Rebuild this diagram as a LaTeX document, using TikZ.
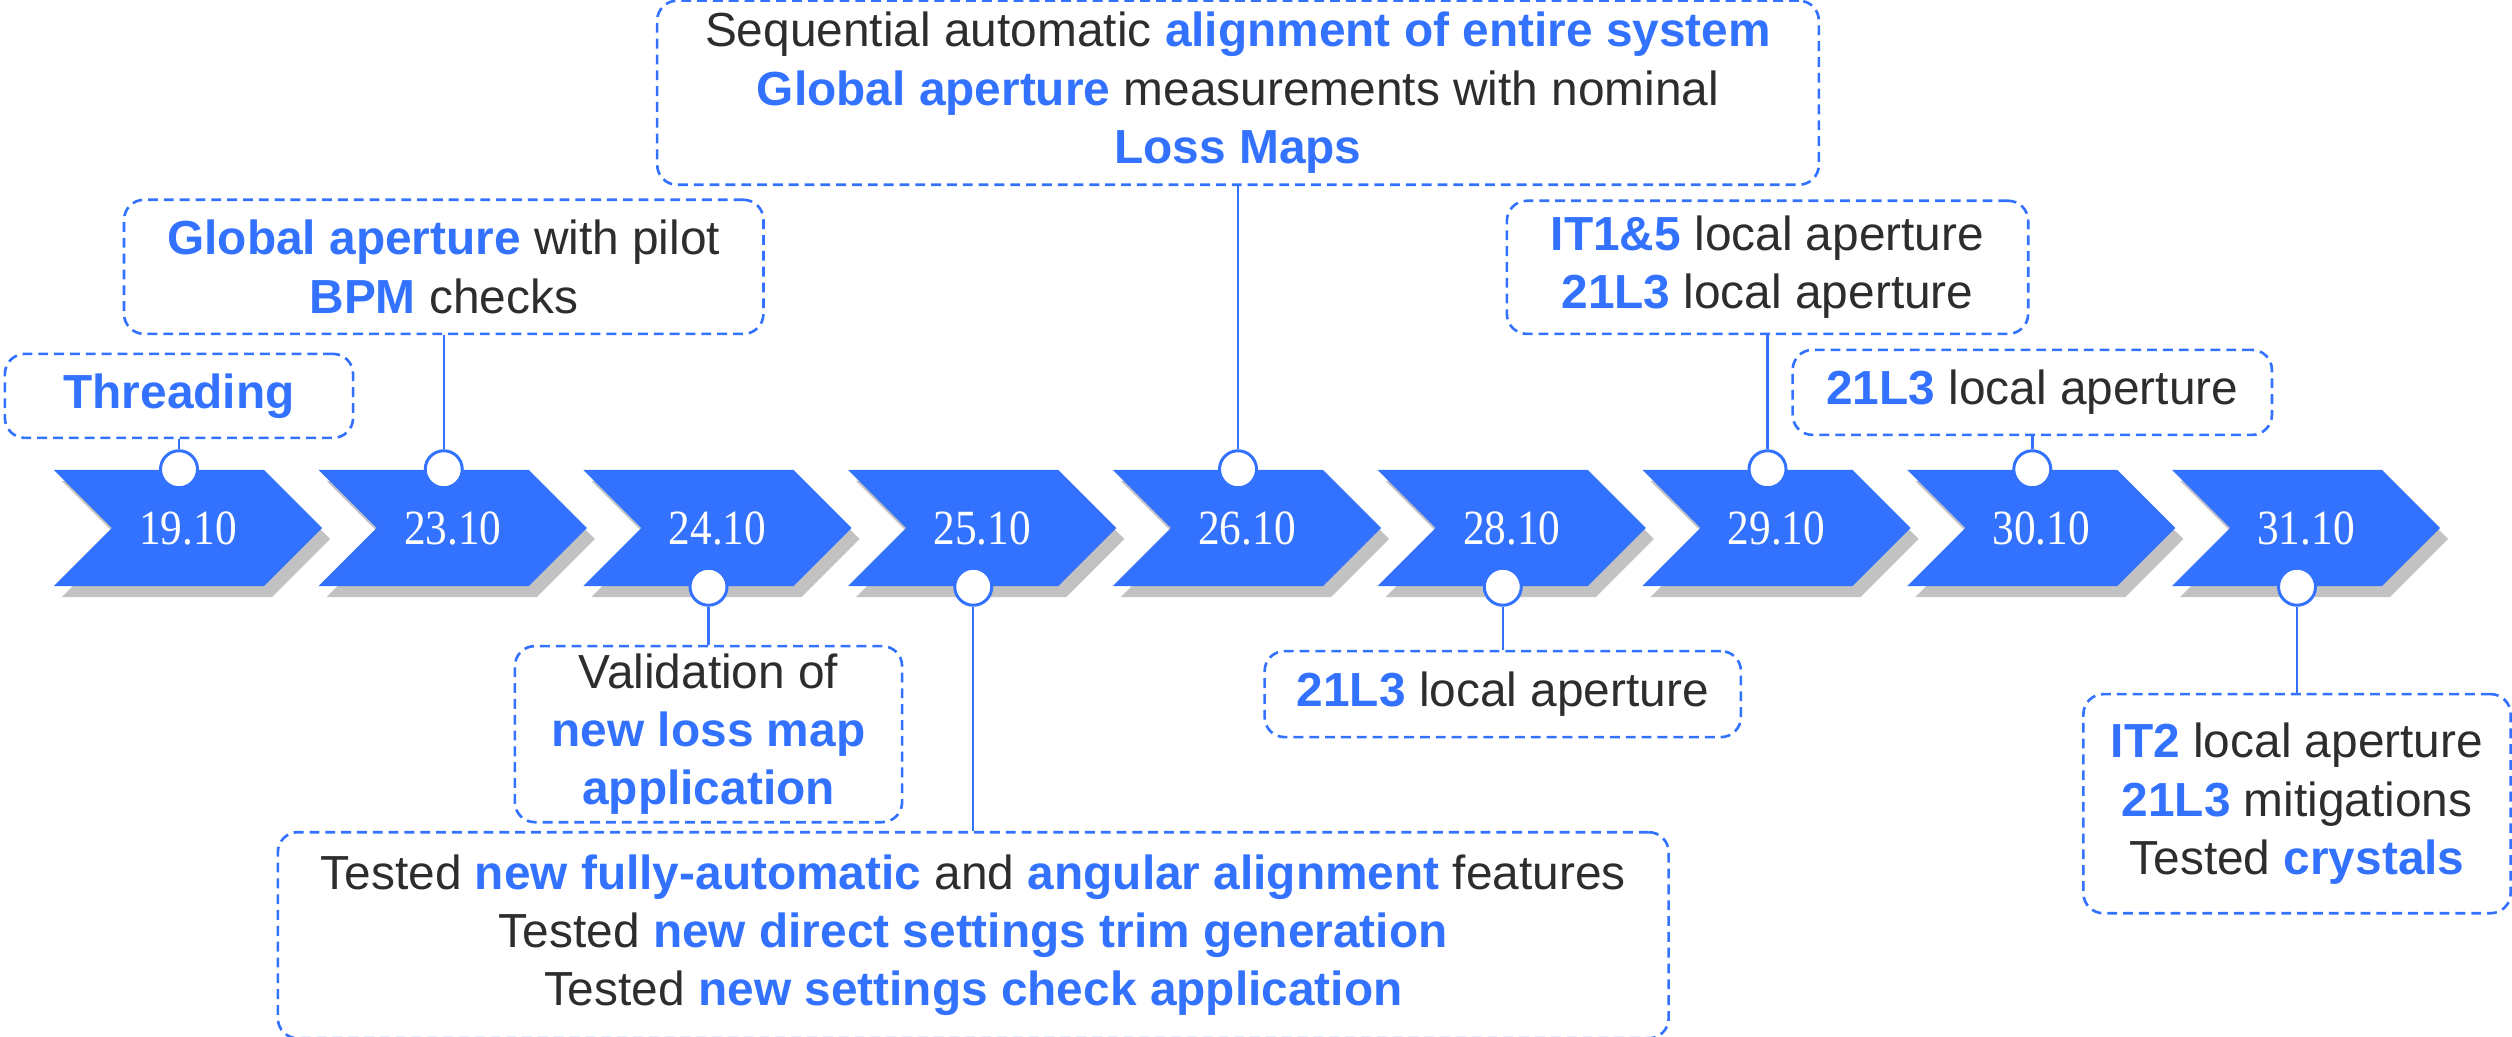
\documentclass[tikz,border=0pt]{standalone}
\usepackage{fontspec}
\setmainfont{Liberation Sans}
\newfontfamily\datefont{Liberation Serif}
\usetikzlibrary{positioning,shapes.symbols,shadows}
\definecolor{keyblue}{RGB}{51,114,255}
\definecolor{darktext}{RGB}{45,45,45}
\newcommand{\kw}[1]{\textbf{\color{keyblue}#1}}
\newcommand{\dte}[1]{\scalebox{0.88}[1]{\datefont #1}}
\tikzset{
	day/.style={signal, signal from=west, signal to=east, signal pointer angle=90,
		fill=keyblue, text=white, minimum width=2.68cm, minimum height=1.16cm, inner sep=0pt,
		font=\fontsize{14}{14}\selectfont,
		drop shadow={shadow xshift=0.08cm, shadow yshift=-0.11cm, fill=black!40, opacity=.6}},
	pin dot/.style={circle, draw=keyblue, fill=white, line width=0.85pt, minimum size=0.37cm, inner sep=0pt},
	note/.style={draw=keyblue, line width=0.75pt, dash pattern=on 2.8pt off 1.7pt,
		rounded corners=0.2cm, align=center, text=darktext, inner sep=0pt,
		font=\fontsize{13.6}{16.6}\selectfont},
	link/.style={draw=keyblue, line width=0.7pt}
}
\begin{document}
\begin{tikzpicture}[x=0.01cm, y=-0.01cm, node distance=2.646cm]
	\useasboundingbox (0,0) rectangle (2512,1037);
	% timeline
	\node[day](d1) at (188,528){\dte{19.10}};
	\node[day](d2)[right of=d1]{\dte{23.10}};
	\node[day](d3)[right of=d2]{\dte{24.10}};
	\node[day](d4)[right of=d3]{\dte{25.10}};
	\node[day](d5)[right of=d4]{\dte{26.10}};
	\node[day](d6)[right of=d5]{\dte{28.10}};
	\node[day](d7)[right of=d6]{\dte{29.10}};
	\node[day](d8)[right of=d7]{\dte{30.10}};
	\node[day](d9)[right of=d8]{\dte{31.10}};
	% pins
	\node[pin dot](p1) at ([xshift=-0.09cm]d1.north){};
	\node[pin dot](p2) at ([xshift=-0.09cm]d2.north){};
	\node[pin dot](p3) at ([xshift=-0.09cm]d3.south){};
	\node[pin dot](p4) at ([xshift=-0.09cm]d4.south){};
	\node[pin dot](p5) at ([xshift=-0.09cm]d5.north){};
	\node[pin dot](p6) at ([xshift=-0.09cm]d6.south){};
	\node[pin dot](p7) at ([xshift=-0.09cm]d7.north){};
	\node[pin dot](p8) at ([xshift=-0.09cm]d8.north){};
	\node[pin dot](p9) at ([xshift=-0.09cm]d9.south){};
	% notes above
	\node[note, above=0.10cm of p1, minimum width=3.48cm, minimum height=0.84cm](n1){\kw{Threading}};
	\node[note, above=1.14cm of p2, minimum width=6.39cm, minimum height=1.34cm](n2){\kw{Global aperture} with pilot\\\kw{BPM} checks};
	\node[note, above=2.63cm of p5, minimum width=11.61cm, minimum height=1.84cm](n5){Sequential automatic \kw{alignment of entire system}\\\kw{Global aperture} measurements with nominal\\\kw{Loss Maps}};
	\node[note, above=1.14cm of p7, minimum width=5.21cm, minimum height=1.33cm](n7){\kw{IT1\&5} local aperture\\\kw{21L3} local aperture};
	\node[note, above=0.13cm of p8, minimum width=4.79cm, minimum height=0.85cm](n8){\kw{21L3} local aperture};
	% notes below
	\node[note, below=0.38cm of p3, minimum width=3.87cm, minimum height=1.76cm](n3){Validation of\\\kw{new loss map}\\\kw{application}};
	\node[note, below=2.24cm of p4, minimum width=13.90cm, minimum height=2.06cm](n4){Tested \kw{new fully-automatic} and \kw{angular alignment} features\\Tested \kw{new direct settings trim generation}\\Tested \kw{new settings check application}};
	\node[note, below=0.43cm of p6, minimum width=4.76cm, minimum height=0.86cm](n6){\kw{21L3} local aperture};
	\node[note, below=0.86cm of p9, minimum width=4.27cm, minimum height=2.19cm](n9){\kw{IT2} local aperture\\\kw{21L3} mitigations\\Tested \kw{crystals}};
	% links
	\draw[link](n1) -- (p1);
	\draw[link](n2) -- (p2);
	\draw[link](p3) -- (n3);
	\draw[link](p4) -- (n4);
	\draw[link](n5) -- (p5);
	\draw[link](p6) -- (n6);
	\draw[link](n7) -- (p7);
	\draw[link](n8) -- (p8);
	\draw[link](p9) -- (n9);
\end{tikzpicture}
\end{document}
